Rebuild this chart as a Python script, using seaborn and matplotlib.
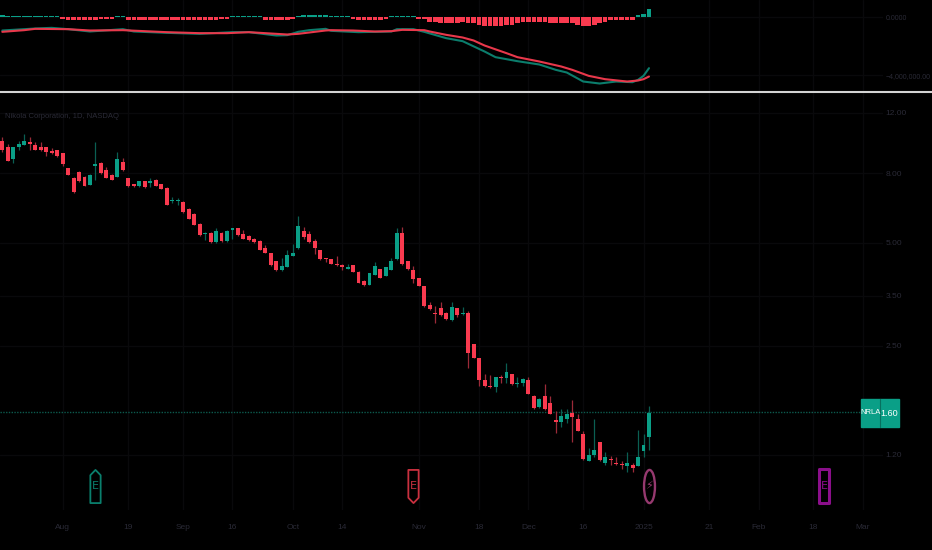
"""Nikola daily candles with a MACD pane on a dark background."""

import matplotlib.pyplot as plt
import pandas as pd
import seaborn as sns
from matplotlib.lines import Line2D
from matplotlib.patches import Rectangle
from matplotlib.path import Path
from matplotlib.transforms import Affine2D

GREEN = "#0a9f87"
RED = "#f93a4f"
GREEN_WICK = "#0a5f52"
RED_WICK = "#9c2a38"
GRID = "#09090b"
LABEL = "#2a2a36"
FONT = ["Liberation Sans", "DejaVu Sans"]

# one row per daily bar, oldest first
opens = [
    9.96, 9.55, 8.79, 9.55, 9.67, 9.87, 9.65, 9.55, 9.57, 9.27,
    9.35, 9.15, 8.31, 7.75, 8.06, 7.82, 7.41, 8.42, 8.59, 8.16,
    7.91, 7.82, 8.61, 7.74, 7.42, 7.34, 7.57, 7.50, 7.66, 7.42,
    7.26, 6.62, 6.62, 6.61, 6.27, 6.07, 5.70, 5.30, 5.35, 5.03,
    5.35, 5.08, 5.46, 5.52, 5.30, 5.25, 5.14, 5.08, 4.82, 4.66,
    4.43, 4.16, 4.25, 4.58, 4.82, 5.41, 5.30, 5.08, 4.77, 4.53,
    4.48, 4.34, 4.30, 4.20, 4.30, 4.12, 3.86, 3.78, 4.04, 4.20,
    4.00, 4.17, 4.48, 5.36, 4.43, 4.16, 3.95, 3.74, 3.30, 3.13,
    3.23, 3.13, 2.97, 3.22, 3.09, 3.13, 2.53, 2.30, 1.99, 1.91,
    1.89, 2.03, 2.01, 2.07, 1.93, 1.95, 1.99, 1.79, 1.66, 1.79,
    1.70, 1.52, 1.50, 1.53, 1.59, 1.53, 1.38, 1.15, 1.20, 1.31,
    1.14, 1.17, 1.14, 1.13, 1.11, 1.12, 1.11, 1.23, 1.35,
]
closes = [
    9.35, 8.71, 9.55, 9.76, 9.96, 9.76, 9.37, 9.35, 9.25, 9.17,
    8.98, 8.51, 7.91, 7.05, 7.59, 7.36, 7.91, 8.51, 7.99, 7.75,
    7.66, 8.79, 8.18, 7.34, 7.34, 7.57, 7.28, 7.59, 7.36, 7.21,
    6.47, 6.68, 6.68, 6.15, 5.89, 5.66, 5.26, 5.35, 5.02, 5.41,
    5.07, 5.43, 5.52, 5.26, 5.14, 5.09, 5.03, 4.78, 4.68, 4.30,
    4.16, 4.29, 4.62, 4.66, 5.59, 5.20, 5.03, 4.82, 4.48, 4.48,
    4.35, 4.30, 4.25, 4.25, 4.12, 3.83, 3.78, 4.08, 4.29, 3.95,
    4.25, 4.43, 5.36, 4.34, 4.20, 3.92, 3.75, 3.27, 3.20, 3.09,
    3.07, 3.00, 3.26, 3.07, 3.13, 2.38, 2.30, 1.99, 1.91, 1.89,
    2.03, 2.01, 2.10, 1.93, 1.95, 2.00, 1.81, 1.65, 1.75, 1.63,
    1.58, 1.50, 1.56, 1.58, 1.55, 1.41, 1.17, 1.20, 1.24, 1.16,
    1.18, 1.16, 1.13, 1.12, 1.14, 1.10, 1.18, 1.28, 1.59,
]
highs = [
    10.18, 9.74, 9.55, 9.96, 10.40, 10.18, 9.85, 9.85, 9.57, 9.46,
    9.35, 9.15, 8.31, 7.79, 8.14, 7.84, 7.95, 9.87, 8.63, 8.36,
    7.96, 9.25, 8.85, 7.75, 7.42, 7.57, 7.60, 7.74, 7.67, 7.44,
    7.28, 6.80, 6.77, 6.65, 6.31, 6.10, 5.72, 5.38, 5.37, 5.54,
    5.37, 5.45, 5.52, 5.52, 5.46, 5.28, 5.18, 5.10, 4.92, 4.66,
    4.44, 4.53, 4.77, 4.98, 6.00, 5.58, 5.41, 5.12, 4.77, 4.53,
    4.48, 4.58, 4.33, 4.34, 4.31, 4.14, 3.90, 4.08, 4.39, 4.21,
    4.25, 4.53, 5.52, 5.58, 4.44, 4.29, 3.96, 3.75, 3.37, 3.27,
    3.37, 3.14, 3.37, 3.23, 3.26, 3.16, 2.54, 2.30, 2.07, 2.05,
    2.03, 2.05, 2.23, 2.07, 2.03, 2.01, 2.03, 1.80, 1.76, 1.93,
    1.79, 1.61, 1.63, 1.63, 1.74, 1.58, 1.41, 1.26, 1.53, 1.31,
    1.22, 1.19, 1.18, 1.15, 1.22, 1.14, 1.42, 1.38, 1.67,
]
lows = [
    9.25, 8.67, 8.59, 9.35, 9.67, 9.35, 9.35, 9.29, 8.98, 9.09,
    8.94, 8.42, 7.89, 7.02, 7.55, 7.34, 7.39, 7.64, 7.98, 7.72,
    7.62, 7.79, 8.14, 7.31, 7.31, 7.28, 7.26, 7.28, 7.34, 7.19,
    6.44, 6.56, 6.47, 6.12, 5.87, 5.63, 5.23, 5.10, 5.00, 5.00,
    5.03, 5.05, 5.14, 5.25, 5.12, 5.08, 4.99, 4.77, 4.66, 4.28,
    4.13, 4.15, 4.24, 4.58, 4.81, 5.15, 5.01, 4.63, 4.47, 4.39,
    4.34, 4.29, 4.16, 4.19, 4.11, 3.82, 3.75, 3.77, 4.03, 3.94,
    3.99, 4.16, 4.47, 4.31, 4.18, 3.83, 3.74, 3.24, 3.19, 2.91,
    3.05, 2.98, 2.96, 3.04, 3.08, 2.16, 2.30, 1.91, 1.90, 1.88,
    1.83, 1.95, 1.95, 1.92, 1.89, 1.91, 1.81, 1.64, 1.65, 1.62,
    1.58, 1.39, 1.45, 1.49, 1.31, 1.41, 1.16, 1.15, 1.18, 1.15,
    1.12, 1.12, 1.12, 1.09, 1.07, 1.07, 1.11, 1.18, 1.24,
]
price_ticks = [1.2, 2.5, 3.5, 5.0, 8.0, 12.0]
price_labels = ["1.20", "2.50", "3.50", "5.00", "8.00", "12.00"]
last_price = 1.60

date_ticks = [11, 23, 33, 42, 53, 62, 76, 87, 96, 106, 117, 129, 138, 148, 157]
date_labels = ["Aug", "19", "Sep", "16", "Oct", "14", "Nov", "18", "Dec", "16",
               "2025", "21", "Feb", "18", "Mar"]

hist_values = [
    160e3, 70e3, 70e3, 70e3, 70e3, 70e3, 70e3, 70e3, 70e3, 70e3,
    70e3, -70e3, -170e3, -170e3, -170e3, -170e3, -170e3, -170e3, -70e3, -70e3,
    -70e3, 70e3, 70e3, -170e3, -170e3, -170e3, -170e3, -170e3, -170e3, -170e3,
    -170e3, -170e3, -170e3, -170e3, -170e3, -170e3, -170e3, -170e3, -170e3, -170e3,
    -70e3, -70e3, 70e3, 70e3, 70e3, 70e3, 70e3, 70e3, -170e3, -170e3,
    -170e3, -170e3, -170e3, -70e3, 70e3, 150e3, 150e3, 150e3, 150e3, 150e3,
    70e3, 70e3, 70e3, 70e3, -70e3, -150e3, -150e3, -150e3, -150e3, -150e3,
    -70e3, 70e3, 70e3, 70e3, 70e3, 70e3, -120e3, -130e3, -280e3, -280e3,
    -390e3, -390e3, -390e3, -390e3, -280e3, -390e3, -390e3, -530e3, -600e3, -620e3,
    -620e3, -620e3, -530e3, -510e3, -390e3, -280e3, -280e3, -280e3, -280e3, -280e3,
    -390e3, -390e3, -390e3, -390e3, -390e3, -530e3, -620e3, -620e3, -510e3, -390e3,
    -280e3, -180e3, -180e3, -180e3, -180e3, -180e3, 140e3, 255e3, 575e3,
]
macd_bars = [0, 4, 6, 9, 12, 16, 22, 24, 30, 36, 42, 45, 50, 52, 54, 56, 59, 60, 65, 71,
             72, 75, 77, 81, 84, 88, 90, 94, 98, 101, 103, 106, 109, 112, 115, 116, 117, 118]
macd_values = [
    -897e3, -805e3, -759e3, -713e3, -805e3, -966e3, -805e3, -966e3, -1058e3, -1127e3,
    -1012e3, -1012e3, -1242e3, -1219e3, -989e3, -874e3, -782e3, -920e3, -1012e3, -966e3,
    -805e3, -805e3, -989e3, -1426e3, -1633e3, -2346e3, -2737e3, -3013e3, -3243e3, -3611e3,
    -3795e3, -4416e3, -4554e3, -4416e3, -4462e3, -4301e3, -4025e3, -3496e3,
]
signal_bars = [0, 4, 6, 12, 16, 22, 26, 30, 36, 41, 45, 48, 52, 54, 56, 59, 60, 64, 68, 71,
               73, 77, 78, 81, 84, 86, 88, 92, 94, 98, 102, 104, 107, 110, 114, 116, 117, 118]
signal_values = [
    -989e3, -874e3, -782e3, -805e3, -897e3, -874e3, -943e3, -1012e3, -1081e3, -1081e3,
    -1012e3, -1081e3, -1173e3, -1127e3, -1035e3, -897e3, -874e3, -897e3, -966e3, -943e3,
    -851e3, -874e3, -966e3, -1196e3, -1380e3, -1587e3, -1932e3, -2461e3, -2737e3, -3036e3,
    -3381e3, -3611e3, -4025e3, -4255e3, -4416e3, -4347e3, -4255e3, -4071e3,
]
macd_ticks = [0, -4e6]
macd_labels = ["0.0000", "\u22124,000,000.00"]

event_bars = [17, 75, 118, 150]
event_labels = ["E", "E", "\u26a1", "E"]
event_price = 0.973

W, H = 932, 550


def panel(top, bottom, right=883):
    """Axes rectangle from pixel edges of the picture."""
    return [0, 1 - bottom / H, right / W, (bottom - top) / H]


def style_axes(ax, ticks, labels, size):
    ax.set_facecolor("black")
    for spine in ax.spines.values():
        spine.set_visible(False)
    ax.grid(True, color=GRID, lw=1)
    ax.set_axisbelow(True)
    ax.set_xlim(-0.42, 160.7)
    ax.set_xticks(date_ticks)
    ax.yaxis.tick_right()
    ax.set_yticks(ticks)
    ax.set_yticklabels(labels, color=LABEL, fontsize=size)
    ax.minorticks_off()
    ax.tick_params(length=0, pad=2)
    ax.set_xlabel("")
    ax.set_ylabel("")


def flag(points):
    return Path(points + [points[0]], closed=True)


def main():
    sns.set_theme(style="dark")
    plt.rcParams["font.family"] = FONT
    fig = plt.figure(figsize=(W / 100, H / 100), dpi=100, facecolor="black")
    ax_macd = fig.add_axes(panel(0, 91))
    ax_main = fig.add_axes(panel(93, 510))

    bars = pd.DataFrame({"open": opens, "high": highs, "low": lows, "close": closes})
    bars["bar"] = bars.index
    bars["up"] = bars["close"] >= bars["open"]
    hist = pd.DataFrame({"bar": bars["bar"], "value": hist_values})
    hist["up"] = hist["value"] >= 0

    # MACD pane
    sns.barplot(data=hist, x="bar", y="value", hue="up", palette={True: GREEN, False: RED},
                native_scale=True, dodge=False, width=0.85, errorbar=None, legend=False,
                saturation=1, linewidth=0, ax=ax_macd)
    macd = pd.DataFrame({"bar": macd_bars, "value": macd_values})
    signal = pd.DataFrame({"bar": signal_bars, "value": signal_values})
    sns.lineplot(data=macd, x="bar", y="value", color="#0b7d6c", lw=1.5, ax=ax_macd)
    sns.lineplot(data=signal, x="bar", y="value", color="#e8384b", lw=1.5, ax=ax_macd)
    ax_macd.set_ylim(-5.07e6, 1.207e6)
    style_axes(ax_macd, macd_ticks, macd_labels, 5)
    ax_macd.set_xticklabels([])

    # price pane
    for up, wick, body in ((True, GREEN_WICK, GREEN), (False, RED_WICK, RED)):
        part = bars[bars["up"] == up]
        ax_main.vlines(part["bar"], part["low"], part["high"], color=wick, lw=0.9)
        tops = part[["open", "close"]].max(axis=1)
        bottoms = part[["open", "close"]].min(axis=1)
        ax_main.bar(part["bar"], tops - bottoms, bottom=bottoms, width=0.72, color=body,
                    linewidth=0, zorder=3)

    ax_main.set_yscale("log")
    ax_main.set_ylim(0.828, 13.73)
    style_axes(ax_main, price_ticks, price_labels, 6)
    ax_main.set_xticklabels(date_labels, color=LABEL, fontsize=6)
    ax_main.tick_params(axis="x", pad=10)
    ax_main.axhline(last_price, color="#0c5a4d", lw=1, ls=(0, (1, 1)), zorder=1)

    ax_main.text(0.006, 0.944, "Nikola Corporation, 1D, NASDAQ", transform=ax_main.transAxes,
                 color=LABEL, fontsize=5.5, va="center")

    # earnings and dividend flags along the bottom
    shapes = [
        flag([(-0.31, -1), (0.31, -1), (0.31, 0.68), (0, 1), (-0.31, 0.68)]),
        flag([(-0.31, 1), (0.31, 1), (0.31, -0.68), (0, -1), (-0.31, -0.68)]),
        Path.unit_circle().transformed(Affine2D().scale(0.33, 1)),
        flag([(-0.31, -1), (0.31, -1), (0.31, 1), (-0.31, 1)]),
    ]
    colors = ["#0a7f6d", "#c9303f", "#96396f", "#8b0f8b"]
    widths = [1.3, 1.3, 1.7, 2.2]
    for bar, label, shape, color, lw in zip(event_bars, event_labels, shapes, colors, widths):
        ax_main.scatter([bar], [event_price], marker=shape, s=570, facecolor="black",
                        edgecolor=color, linewidth=lw, zorder=4)
        ax_main.text(bar, event_price, label, color=color, fontsize=8, ha="center", va="center",
                     family="DejaVu Sans", zorder=5)

    # pane divider and last price tag
    fig.add_artist(Line2D([0, 1], [1 - 92 / H] * 2, color="#d4d4d4", lw=1.5))
    fig.add_artist(Rectangle((861 / W, 1 - 427 / H), 38 / W, 28 / H, color=GREEN))
    fig.add_artist(Line2D([880 / W] * 2, [1 - 427 / H, 1 - 399 / H], color="#07705f", lw=0.8))
    fig.text(870.5 / W, 1 - 413 / H, "NRLA", color="white", fontsize=5.5, ha="center", va="center")
    fig.text(889.5 / W, 1 - 413 / H, "1.60", color="white", fontsize=6.5, ha="center", va="center")

    fig.savefig("out.png", dpi=100, facecolor="black")


if __name__ == "__main__":
    main()
